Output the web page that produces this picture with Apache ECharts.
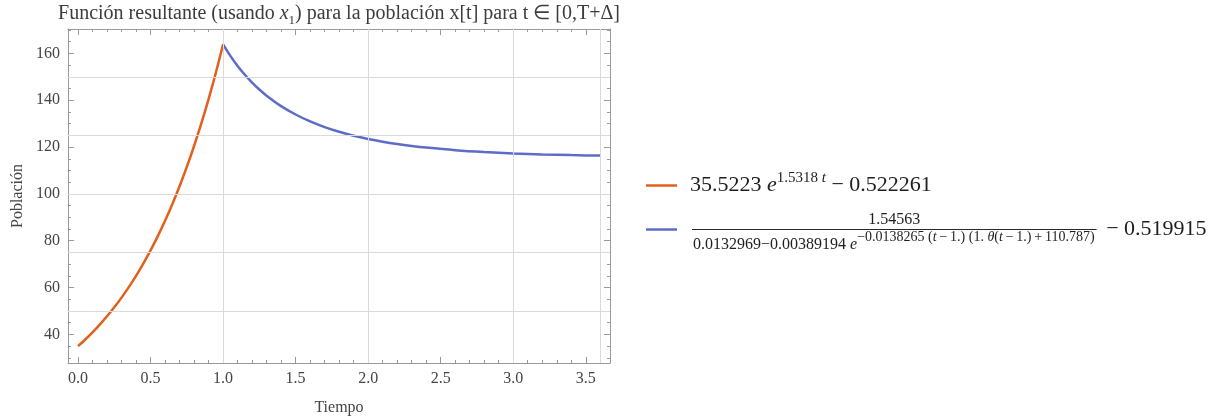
<!DOCTYPE html>
<html>
<head>
<meta charset="utf-8">
<script src="https://cdn.jsdelivr.net/npm/echarts@6/dist/echarts.min.js"></script>
<style>
  html, body { margin: 0; padding: 0; background: #ffffff; }
  #chart { width: 1215px; height: 419px; }
</style>
</head>
<body>
<div id="chart"></div>
<script>
// Población x[t]: exponential growth on [0,1], then logistic-type decay up to T+Δ
const tGrowth = [0, 0.05, 0.1, 0.15, 0.2, 0.25, 0.3, 0.35, 0.4, 0.45, 0.5,
                 0.55, 0.6, 0.65, 0.7, 0.75, 0.8, 0.85, 0.9, 0.95, 1.0];
const xGrowth = [35.00, 37.83, 40.88, 44.18, 47.73, 51.57, 55.72, 60.20, 65.03, 70.25, 75.88,
                 81.96, 88.53, 95.62, 103.27, 111.53, 120.45, 130.08, 140.48, 151.70, 163.82];

const tDecay = [1.0, 1.05, 1.1, 1.15, 1.2, 1.25, 1.3, 1.4, 1.5, 1.6, 1.7, 1.8, 1.9, 2.0,
                2.1, 2.2, 2.3, 2.4, 2.6, 2.8, 3.0, 3.2, 3.4, 3.5, 3.6];
const xDecay = [163.82, 158.92, 154.63, 150.86, 147.53, 144.58, 141.95, 137.49, 133.89, 130.94,
                128.52, 126.52, 124.85, 123.46, 122.29, 121.30, 120.47, 119.77, 118.66, 117.87,
                117.29, 116.87, 116.56, 116.44, 116.34];

// Axis ticks and grid lines
const xMajorTicks = [0, 0.5, 1, 1.5, 2, 2.5, 3, 3.5];
const xMinorTicks = [0.1, 0.2, 0.3, 0.4, 0.6, 0.7, 0.8, 0.9, 1.1, 1.2, 1.3, 1.4, 1.6, 1.7, 1.8, 1.9,
                     2.1, 2.2, 2.3, 2.4, 2.6, 2.7, 2.8, 2.9, 3.1, 3.2, 3.3, 3.4, 3.6];
const yMajorTicks = [40, 60, 80, 100, 120, 140, 160];
const yMinorTicks = [30, 35, 45, 50, 55, 65, 70, 75, 85, 90, 95, 105, 110, 115, 125, 130, 135,
                     145, 150, 155, 165, 170];
const xGridLines = [1, 2, 3, 3.6];
const yGridLines = [50, 75, 100, 125, 150];

const X_MIN = -0.069, X_MAX = 3.667;
const Y_MIN = 27.8, Y_MAX = 170.4;

const FONT = '"Liberation Serif", "Times New Roman", serif';
const FRAME = '#9a9a9a';
const TEXT = '#444444';
const ORANGE = '#e2601b';
const BLUE = '#5d6dc7';
const INK = '#1e1e1e';

// --- frame axes: major / minor ticks on all four sides, pointing inward ---
function frameAxis(position, min, max, ticks, len, withLabels, showLine) {
  return {
    type: 'value',
    position: position,
    min: min, max: max,
    axisLine: { show: showLine, onZero: false, lineStyle: { color: FRAME, width: 1 } },
    axisTick: { show: true, inside: true, length: len, customValues: ticks,
                lineStyle: { color: FRAME, width: 1 } },
    axisLabel: withLabels
      ? { show: true, customValues: ticks, color: TEXT, fontFamily: FONT, fontSize: 16,
          margin: 8, formatter: v => (position === 'bottom' ? Number(v).toFixed(1) : String(v)) }
      : { show: false },
    splitLine: { show: false }
  };
}

const xAxes = [
  Object.assign(frameAxis('bottom', X_MIN, X_MAX, xMajorTicks, 6, true, true), {
    name: 'Tiempo', nameLocation: 'middle', nameGap: 37,
    nameTextStyle: { color: TEXT, fontFamily: FONT, fontSize: 16 }
  }),
  frameAxis('bottom', X_MIN, X_MAX, xMinorTicks, 3, false, false),
  frameAxis('top', X_MIN, X_MAX, xMajorTicks, 6, false, true),
  frameAxis('top', X_MIN, X_MAX, xMinorTicks, 3, false, false)
];
const yAxes = [
  Object.assign(frameAxis('left', Y_MIN, Y_MAX, yMajorTicks, 6, true, true), {
    name: 'Población', nameLocation: 'middle', nameGap: 42, nameRotate: 90,
    nameTextStyle: { color: TEXT, fontFamily: FONT, fontSize: 16 }
  }),
  frameAxis('left', Y_MIN, Y_MAX, yMinorTicks, 3, false, false),
  frameAxis('right', Y_MIN, Y_MAX, yMajorTicks, 6, false, true),
  frameAxis('right', Y_MIN, Y_MAX, yMinorTicks, 3, false, false)
];

// --- text runs (mixed sizes, italics, super/subscripts) laid out by measuring ---
const measureCtx = document.createElement('canvas').getContext('2d');
function fontOf(r) { return (r.italic ? 'italic ' : '') + r.size + 'px ' + FONT; }
function layoutRuns(runs, x, baseline, align, color) {
  runs.forEach(r => { measureCtx.font = fontOf(r); r.w = measureCtx.measureText(r.text).width; });
  const total = runs.reduce((s, r) => s + r.w, 0);
  let cx = align === 'center' ? x - total / 2 : (align === 'right' ? x - total : x);
  const start = cx;
  const els = runs.map(r => {
    const el = {
      type: 'text', x: cx, y: baseline + (r.dy || 0) - 0.34 * r.size, silent: true, z: 10,
      style: { text: r.text, font: fontOf(r), fill: color, align: 'left', verticalAlign: 'middle' }
    };
    cx += r.w;
    return el;
  });
  return { els: els, width: total, start: start, end: cx };
}

const graphics = [];

// Title
const title = layoutRuns([
  { text: 'Función resultante (usando ', size: 20 },
  { text: 'x', size: 20, italic: true },
  { text: '1', size: 13, dy: 4 },
  { text: ') para la población x[t] para t ∈ [0,T+Δ]', size: 20 }
], 339, 21, 'center', '#3c3c3c');
graphics.push(...title.els);

// Legend: first entry
const LEG_X = 690;
graphics.push({ type: 'line', silent: true, z: 10,
  shape: { x1: 646, y1: 185.5, x2: 677, y2: 185.5 },
  style: { stroke: ORANGE, lineWidth: 2.5 } });
const leg1 = layoutRuns([
  { text: '35.5223 ', size: 22 },
  { text: 'e', size: 22, italic: true },
  { text: '1.5318 ', size: 15, dy: -10 },
  { text: 't', size: 15, italic: true, dy: -10 },
  { text: ' − 0.522261', size: 22 }
], LEG_X, 193, 'left', INK);
graphics.push(...leg1.els);

// Legend: second entry (fraction)
graphics.push({ type: 'line', silent: true, z: 10,
  shape: { x1: 646, y1: 229.5, x2: 677, y2: 229.5 },
  style: { stroke: BLUE, lineWidth: 2.5 } });
const TS = '\u2009';
const den = layoutRuns([
  { text: '0.0132969−0.00389194 ', size: 16 },
  { text: 'e', size: 16, italic: true },
  { text: '−0.0138265 (', size: 14, dy: -8 },
  { text: 't', size: 14, italic: true, dy: -8 },
  { text: TS + '−' + TS + '1.) (1. ', size: 14, dy: -8 },
  { text: 'θ', size: 14, italic: true, dy: -8 },
  { text: '(', size: 14, dy: -8 },
  { text: 't', size: 14, italic: true, dy: -8 },
  { text: TS + '−' + TS + '1.)' + TS + '+' + TS + '110.787)', size: 14, dy: -8 }
], LEG_X + 3, 250, 'left', INK);
graphics.push(...den.els);
const barX0 = LEG_X + 2, barX1 = den.end + 2;
graphics.push({ type: 'line', silent: true, z: 10,
  shape: { x1: barX0, y1: 229.5, x2: barX1, y2: 229.5 },
  style: { stroke: '#2a2a2a', lineWidth: 1 } });
const num = layoutRuns([{ text: '1.54563', size: 16 }], (barX0 + barX1) / 2, 225, 'center', INK);
graphics.push(...num.els);
const tail = layoutRuns([{ text: ' − 0.519915', size: 22 }], barX1 + 4, 237, 'left', INK);
graphics.push(...tail.els);

const chart = echarts.init(document.getElementById('chart'), null, { renderer: 'canvas' });
chart.setOption({
  animation: false,
  backgroundColor: '#ffffff',
  grid: { left: 68, right: 605, top: 29, bottom: 56, containLabel: false, outerBoundsMode: 'none' },
  xAxis: xAxes,
  yAxis: yAxes,
  graphic: graphics,
  series: [
    {
      name: 'grid', type: 'line', data: [], z: 1, xAxisIndex: 0, yAxisIndex: 0,
      markLine: {
        silent: true, symbol: ['none', 'none'], label: { show: false }, animation: false,
        lineStyle: { color: '#dadada', width: 1, type: 'solid' },
        emphasis: { disabled: true },
        data: xGridLines.map(v => ({ xAxis: v })).concat(yGridLines.map(v => ({ yAxis: v })))
      }
    },
    {
      name: 'crecimiento', type: 'line', z: 3, xAxisIndex: 0, yAxisIndex: 0,
      data: tGrowth.map((t, i) => [t, xGrowth[i]]),
      showSymbol: false, smooth: 0.3,
      lineStyle: { color: ORANGE, width: 2.5 }, itemStyle: { color: ORANGE }
    },
    {
      name: 'decaimiento', type: 'line', z: 3, xAxisIndex: 0, yAxisIndex: 0,
      data: tDecay.map((t, i) => [t, xDecay[i]]),
      showSymbol: false, smooth: 0.3,
      lineStyle: { color: BLUE, width: 2.5 }, itemStyle: { color: BLUE }
    }
  ]
});
</script>
</body>
</html>
